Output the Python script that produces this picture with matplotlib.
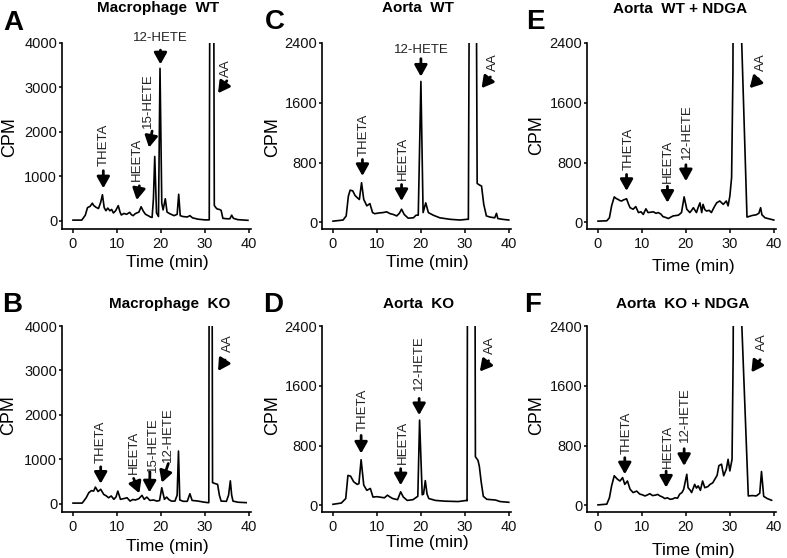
import matplotlib
matplotlib.use('Agg')
import matplotlib.pyplot as plt

plt.rcParams['font.family'] = ['Liberation Sans', 'DejaVu Sans']

# ---- data (time in min, counts per minute) ----
t_mac_wt = [0, 2.0, 2.8, 3.3, 3.9, 4.4, 4.7, 5.2, 5.8, 6.3, 6.7, 7.1, 7.5, 7.9, 8.4, 8.8, 9.2, 9.7,
            10.3, 10.7, 11.0, 11.6, 12.2, 12.9, 13.3, 13.7, 14.1, 14.5, 15.0, 15.5, 16.0, 16.5, 17.1,
            17.6, 18.0, 18.3, 18.6, 19.0, 19.45, 19.8, 20.2, 20.5, 21.0, 21.4, 22.0, 23.0, 23.7, 24.05,
            24.4, 25.0, 26.0, 26.6, 27.2, 28.5, 30.0, 31.0, 31.25, 31.9, 32.15, 32.5, 32.8, 33.3, 33.7,
            34.1, 35.0, 35.7, 36.1, 36.5, 37.5, 39.8]
cpm_mac_wt = [20, 20, 130, 300, 330, 400, 350, 310, 280, 420, 590, 300, 230, 290, 230, 260, 180, 230,
              345, 200, 135, 170, 150, 195, 140, 120, 160, 180, 200, 320, 220, 150, 120,
              90, 80, 500, 1450, 180, 100, 3430, 400, 250, 500, 200, 165, 120, 150, 600,
              120, 100, 90, 120, 70, 40, 25, 25, 10000, 10000, 350, 300, 270, 260, 240,
              60, 50, 50, 130, 60, 30, 15]

t_mac_ko = [0, 2.1, 3.0, 3.6, 4.2, 4.7, 5.1, 5.7, 6.3, 7.0, 7.6, 8.1, 8.7, 9.3, 9.8, 10.2, 10.8,
            11.5, 12.3, 13.0, 13.6, 14.2, 15.0, 15.7, 16.2, 16.8, 17.5, 18.3, 19.1, 19.7, 20.2, 20.8,
            21.3, 21.8, 22.4, 23.2, 23.7, 24.0, 24.3, 25.1, 26.0, 26.6, 27.1, 28.5, 29.6, 30.7, 30.9,
            31.05, 31.55, 31.75, 32.3, 32.9, 33.3, 33.7, 34.9, 35.4, 35.8, 36.1, 36.4, 37.5, 39.4]
cpm_mac_ko = [20, 20, 140, 255, 300, 290, 380, 280, 330, 215, 180, 140, 180, 105, 160, 290, 105,
              120, 140, 65, 100, 90, 120, 195, 105, 155, 80, 90, 65, 80, 365, 105,
              155, 100, 65, 65, 200, 1190, 90, 60, 60, 230, 80, 65, 45, 30, 30,
              10000, 10000, 480, 460, 440, 200, 65, 60, 200, 520, 200, 65, 40, 30]

t_ao_wt = [0, 2.3, 3.0, 3.5, 3.9, 4.5, 5.0, 5.5, 6.0, 6.5, 7.0, 7.7, 8.4, 9.0, 9.5, 10.5, 11.4, 12.2,
           13.0, 13.7, 14.5, 15.1, 15.6, 16.2, 17.1, 18.3, 18.9, 19.4, 20.0, 20.5, 21.1, 21.7, 22.8,
           24.3, 26.6, 28.9, 30.5, 30.8, 31.2, 32.4, 32.8, 33.3, 33.8, 34.3, 34.9, 35.7, 36.8, 37.2,
           37.5, 38.5, 40.0]
cpm_ao_wt = [15, 30, 85, 350, 430, 420, 360, 330, 305, 530, 305, 220, 250, 130, 115, 125, 130, 140,
             115, 105, 85, 120, 175, 105, 55, 60, 95, 95, 1885, 130, 260, 130, 95,
             60, 40, 30, 40, 40, 6000, 6000, 520, 500, 485, 240, 85, 70, 60, 120,
             50, 40, 30]

t_ao_ko = [0, 1.9, 2.9, 3.4, 4.0, 4.7, 5.5, 5.9, 6.4, 7.0, 7.7, 8.5, 9.1, 10.0, 10.6, 11.7, 12.4,
           13.0, 13.6, 14.7, 15.4, 16.0, 16.9, 18.2, 18.8, 19.3, 19.7, 20.3, 20.6, 21.0, 21.4, 21.8,
           23.3, 25.5, 28.5, 30.4, 30.5, 30.7, 32.2, 32.4, 33.0, 33.3, 33.7, 34.2, 35.0, 37.0, 38.0,
           40.0]
cpm_ao_ko = [13, 30, 90, 400, 390, 315, 280, 290, 610, 270, 200, 225, 110, 115, 110, 100, 135,
             110, 90, 75, 180, 110, 65, 75, 100, 120, 1140, 140, 150, 330, 150, 90,
             65, 55, 50, 65, 60, 6000, 6000, 650, 600, 520, 320, 120, 80, 70, 50,
             40]

t_ao_wt_ndga = [0, 2.0, 2.6, 3.1, 3.7, 4.1, 4.6, 5.0, 5.4, 5.8, 6.1, 6.5, 6.9, 7.3, 8.0, 8.6, 9.2,
                9.8, 10.3, 10.9, 11.4, 12.0, 12.6, 13.2, 13.7, 14.3, 14.8, 15.4, 16.0, 16.6, 17.1,
                17.7, 18.3, 19.0, 19.6, 20.2, 20.9, 21.3, 21.7, 22.4, 22.8, 23.2, 23.6, 23.9, 24.3,
                24.7, 25.3, 25.8, 26.4, 27.0, 27.7, 28.5, 29.2, 29.6, 30.0, 30.4, 30.7, 30.85, 32.5,
                32.6, 33.9, 34.5, 35.0, 36.0, 36.6, 37.0, 37.3, 38.0, 40.0]
cpm_ao_wt_ndga = [15, 20, 60, 220, 340, 320, 305, 290, 285, 300, 305, 315, 250, 195, 175, 210, 130,
                  140, 105, 180, 130, 135, 140, 120, 130, 110, 75, 65, 50, 70, 85,
                  90, 95, 130, 340, 175, 130, 160, 195, 130, 200, 260, 130, 240, 170,
                  150, 160, 130, 200, 260, 285, 240, 285, 220, 350, 600, 2000, 5000, 5000,
                  2600, 70, 80, 90, 100, 120, 195, 100, 60, 30]

t_ao_ko_ndga = [0, 2.0, 2.6, 3.1, 3.7, 4.4, 5.0, 5.6, 6.1, 6.7, 7.3, 8.0, 8.8, 9.5, 10.1, 10.7, 11.3,
                11.8, 12.4, 13.0, 13.6, 14.1, 14.7, 15.2, 15.8, 16.4, 17.0, 17.5, 18.1, 18.6, 19.1,
                19.5, 20.2, 20.5, 21.0, 21.3, 22.0, 22.4, 22.8, 23.3, 23.8, 24.3, 25.0, 25.5, 26.1,
                26.6, 27.1, 27.5, 28.1, 28.6, 29.2, 29.6, 30.0, 30.5, 30.75, 30.95, 32.5, 32.6, 34.2,
                35.1, 36.0, 36.8, 37.2, 37.7, 38.5, 39.5]
cpm_ao_ko_ndga = [5, 15, 100, 260, 395, 350, 325, 370, 280, 325, 215, 170, 190, 150, 140, 125, 140,
                  155, 130, 135, 145, 125, 110, 90, 100, 80, 85, 100, 95, 150, 170,
                  215, 415, 235, 200, 170, 280, 230, 260, 200, 325, 235, 250, 280, 300,
                  350, 400, 530, 550, 395, 485, 615, 460, 615, 2000, 5000, 5000, 2600, 125,
                  130, 125, 160, 452, 120, 90, 67]

panel_letters = ['A', 'B', 'C', 'D', 'E', 'F']
panel_titles = ['Macrophage  WT', 'Macrophage  KO', 'Aorta  WT', 'Aorta  KO',
                'Aorta  WT + NDGA', 'Aorta  KO + NDGA']
y_max = [4000, 4000, 2400, 2400, 2400, 2400]
y_ticks_big = [0, 1000, 2000, 3000, 4000]
y_ticks_small = [0, 800, 1600, 2400]
x_ticks = [0, 10, 20, 30, 40]

traces = [(t_mac_wt, cpm_mac_wt), (t_mac_ko, cpm_mac_ko), (t_ao_wt, cpm_ao_wt),
          (t_ao_ko, cpm_ao_ko), (t_ao_wt_ndga, cpm_ao_wt_ndga), (t_ao_ko_ndga, cpm_ao_ko_ndga)]

# peak labels: text, arrow tail (t, cpm), arrow tip (t, cpm), text centre (t, cpm), rotation
labels = [
    [('THETA', (6.9, 1130), (6.9, 735), (7.0, 1710), 90),
     ('HEETA', (15.1, 790), (14.5, 470), (14.5, 1390), 90),
     ('15-HETE', (18.0, 2020), (17.3, 1650), (17.1, 2700), 90),
     ('12-HETE', (19.9, 3840), (19.9, 3520), (19.9, 4105), 0),
     ('AA', (35.0, 3150), (33.0, 2870), (34.9, 3430), 90)],
    [('THETA', (6.3, 835), (6.3, 456), (6.3, 1395), 90),
     ('HEETA', (13.8, 575), (15.1, 240), (13.8, 1170), 90),
     ('15-HETE', (17.5, 720), (17.4, 260), (18.3, 1345), 90),
     ('12-HETE', (21.7, 910), (20.2, 480), (21.7, 1570), 90),
     ('AA', (34.6, 3235), (33.0, 2990), (35.3, 3625), 90)],
    [('THETA', (6.7, 840), (6.7, 620), (6.9, 1173), 90),
     ('HEETA', (15.6, 505), (15.6, 285), (16.0, 850), 90),
     ('12-HETE', (20.0, 2190), (20.0, 1950), (20.2, 2307), 0),
     ('AA', (35.8, 1945), (33.8, 1795), (36.3, 2150), 90)],
    [('THETA', (6.4, 935), (6.4, 693), (6.8, 1275), 90),
     ('HEETA', (15.4, 490), (15.4, 268), (15.8, 838), 90),
     ('12-HETE', (19.6, 1430), (19.6, 1207), (19.6, 1910), 90),
     ('AA', (35.4, 1935), (33.4, 1790), (35.7, 2145), 90)],
    [('THETA', (6.5, 640), (6.5, 420), (6.9, 985), 90),
     ('HEETA', (15.8, 482), (15.8, 262), (16.0, 818), 90),
     ('12-HETE', (20.0, 770), (20.0, 550), (20.2, 1207), 90),
     ('AA', (36.5, 1920), (34.5, 1795), (37.0, 2140), 90)],
    [('THETA', (6.1, 637), (6.1, 415), (6.5, 975), 90),
     ('HEETA', (15.5, 458), (15.5, 237), (15.8, 795), 90),
     ('12-HETE', (19.6, 757), (19.6, 527), (19.8, 1220), 90),
     ('AA', (36.9, 1950), (34.9, 1780), (37.2, 2190), 90)],
]

W, H = 787, 558
fig = plt.figure(figsize=(W / 100, H / 100), dpi=100)

col_left = [62, 322, 587]
row_top = [43, 326]
ax_w, ax_h = 189, 186
letter_xy = [(13, 23), (12, 305), (275, 22), (273, 305), (535, 22), (533, 305)]
title_xy = [(158, 8), (170, 304), (418, 8), (419, 304), (680, 9), (683, 304)]
ylab_xy = [(10, 137), (9, 415), (273, 137), (273, 415), (537, 135), (537, 415)]
xlab_xy = [(167, 263), (167, 547), (427, 263), (427, 543), (693, 267), (693, 550)]

def px(x, y):
    return x / W, 1 - y / H

ink = '#111111'
for i in range(6):
    c, r = i // 2, i % 2
    left, top = col_left[c], row_top[r]
    ax = fig.add_axes([left / W, 1 - (top + ax_h) / H, ax_w / W, ax_h / H])
    t, cpm = traces[i]
    ax.plot(t, cpm, color='k', lw=1.2)
    ymax = y_max[i]
    ax.set_xlim(-2.5, 40.5)
    ax.set_ylim(-0.045 * ymax if ymax == 4000 else -90, ymax)
    ax.set_xticks(x_ticks)
    ax.set_yticks(y_ticks_big if ymax == 4000 else y_ticks_small)
    for s in ['top', 'right']:
        ax.spines[s].set_visible(False)
    for s in ['left', 'bottom']:
        ax.spines[s].set_linewidth(1.2)
    ax.tick_params(axis='x', direction='out', length=3, width=1.1, labelsize=10.5, pad=3,
                   labelcolor=ink)
    ax.tick_params(axis='y', direction='out', length=2, width=1.1, labelsize=10.5, pad=1.5,
                   labelcolor=ink)

    for text, tail, tip, txy, rot in labels[i]:
        ax.annotate('', xy=tip, xytext=tail, annotation_clip=False,
                    arrowprops=dict(arrowstyle='-|>,head_length=0.34,head_width=0.19',
                                    lw=2, color='k', shrinkA=0, shrinkB=0, mutation_scale=20))
        ax.text(txy[0], txy[1], text, rotation=rot, ha='center', va='center',
                fontsize=9.5, color='#222222', clip_on=False)

    fig.text(*px(*letter_xy[i]), panel_letters[i], fontsize=20, fontweight='bold',
             ha='center', va='center')
    fig.text(*px(*title_xy[i]), panel_titles[i], fontsize=11, fontweight='bold',
             ha='center', va='center')
    fig.text(*px(*ylab_xy[i]), 'CPM', fontsize=13, rotation=90, ha='center', va='center')
    fig.text(*px(*xlab_xy[i]), 'Time (min)', fontsize=12.5, ha='center', va='center')

fig.savefig('out.png', dpi=100)
